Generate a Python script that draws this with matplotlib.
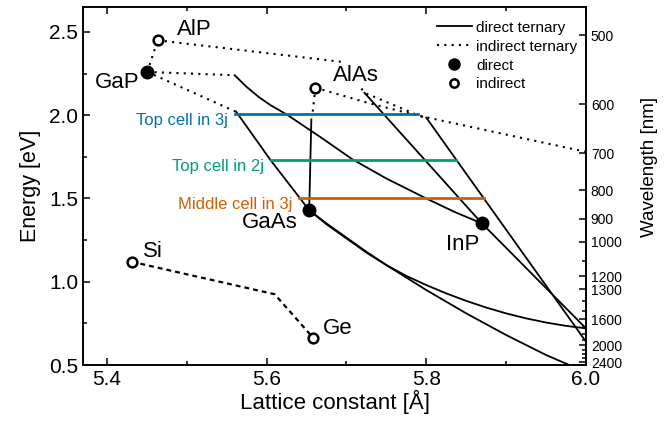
import numpy as np
import matplotlib.pyplot as plt
from matplotlib.lines import Line2D
from matplotlib.ticker import MultipleLocator, FixedLocator, NullFormatter

plt.rcParams['font.family'] = ['Liberation Sans', 'DejaVu Sans']

#---BINARY COMPOUNDS (lattice constant [A], gap [eV])
direct_names = ['GaP', 'GaAs', 'InP']
direct_a = [5.4505, 5.6533, 5.8697]
direct_e = [2.26, 1.43, 1.35]

indirect_names = ['AlP', 'AlAs', 'Si', 'Ge']
indirect_a = [5.4635, 5.6611, 5.431, 5.658]
indirect_e = [2.45, 2.165, 1.12, 0.665]

#---TERNARY CURVES, direct parts (solid)
gainp_a = [5.56, 5.575, 5.59, 5.605, 5.625, 5.67, 5.7075, 5.75, 5.80, 5.835, 5.8697]
gainp_e = [2.24, 2.17, 2.11, 2.06, 2.005, 1.86, 1.735, 1.62, 1.50, 1.42, 1.35]
gaasp_a = [5.562, 5.605, 5.6533]
gaasp_e = [2.02, 1.73, 1.43]
algaas_a = [5.656, 5.6533]
algaas_e = [1.975, 1.43]
alinp_a = [5.7225, 5.8697]
alinp_e = [2.135, 1.35]
inasp_a = [5.8697, 6.0]
inasp_e = [1.35, 0.72]
alinas_a = [5.80, 6.0]
alinas_e = [1.985, 0.64]
ingaas_a = [5.6533, 5.675, 5.70, 5.725, 5.75, 5.775, 5.80, 5.825, 5.85,
            5.875, 5.90, 5.925, 5.95, 5.979]
ingaas_e = [1.43, 1.35, 1.265, 1.18, 1.10, 1.025, 0.95, 0.88, 0.81,
            0.745, 0.68, 0.62, 0.56, 0.50]
gaassb_a = [5.6533, 5.675, 5.70, 5.725, 5.75, 5.775, 5.80, 5.825, 5.85,
            5.875, 5.90, 5.925, 5.95, 5.975, 6.0]
gaassb_e = [1.43, 1.345, 1.26, 1.175, 1.10, 1.035, 0.98, 0.93, 0.885,
            0.845, 0.81, 0.78, 0.755, 0.735, 0.72]

#---TERNARY CURVES, indirect parts (dotted)
algap_a = [5.4505, 5.4635]
algap_e = [2.26, 2.45]
gainp_ind_a = [5.4505, 5.56]
gainp_ind_e = [2.26, 2.24]
gaasp_ind_a = [5.4505, 5.562]
gaasp_ind_e = [2.26, 2.02]
algaas_ind_a = [5.6611, 5.657]
algaas_ind_e = [2.165, 1.99]
alinp_ind_a = [5.4635, 5.695, 5.7225, 5.791, 6.0]
alinp_ind_e = [2.45, 2.32, 2.135, 1.997, 1.78]
alinas_ind_a = [5.6611, 5.73, 5.80]
alinas_ind_e = [2.165, 2.07, 1.985]
sige_a = [5.431, 5.61, 5.658]
sige_e = [1.12, 0.925, 0.665]

#---SOLAR CELL GAPS
cell_labels = ['Top cell in 3j', 'Top cell in 2j', 'Middle cell in 3j']
cell_e = [2.01, 1.733, 1.505]
cell_a_start = [5.56, 5.606, 5.641]
cell_a_end = [5.789, 5.837, 5.8725]
cell_colors = ['#0072B2', '#009E73', '#D55E00']

#---WAVELENGTH AXIS
wl_major = [500, 600, 700, 800, 900, 1000, 1200, 1300, 1600, 2000, 2400]
wl_minor = [1100, 1400, 1500, 1700, 1800, 1900, 2100, 2200, 2300]

DOT = (0, (1, 2.5))
lw = 1.3

fig = plt.figure(figsize=(6.66, 4.23), dpi=100)
ax = fig.add_axes([83/666, 58/423, 503/666, 358/423])

solid = [(gainp_a, gainp_e), (gaasp_a, gaasp_e), (algaas_a, algaas_e),
         (alinp_a, alinp_e), (inasp_a, inasp_e), (alinas_a, alinas_e),
         (ingaas_a, ingaas_e), (gaassb_a, gaassb_e)]
for a, e in solid:
    ax.plot(a, e, '-', color='black', lw=lw, zorder=2)

dotted = [(algap_a, algap_e), (gainp_ind_a, gainp_ind_e), (gaasp_ind_a, gaasp_ind_e),
          (algaas_ind_a, algaas_ind_e), (alinp_ind_a, alinp_ind_e),
          (alinas_ind_a, alinas_ind_e)]
for a, e in dotted:
    ax.plot(a, e, color='black', lw=1.5, ls=DOT, zorder=2)
ax.plot(sige_a, sige_e, color='black', lw=1.6, ls=(0, (2.2, 1.8)), zorder=2)

#---cell lines
for lab, e, a0, a1, c in zip(cell_labels, cell_e, cell_a_start, cell_a_end, cell_colors):
    ax.plot([a0, a1], [e, e], color=c, lw=2.0, zorder=3)
    ax.text(a0 - 0.009, e - 0.04, lab, color=c, fontsize=12, ha='right', va='center')

#---markers
ax.plot(direct_a, direct_e, 'o', color='black', ms=9, zorder=5)
ax.plot(indirect_a, indirect_e, 'o', mfc='white', mec='black', ms=7, mew=1.8, zorder=5)

#---compound labels
lab_kw = dict(fontsize=16, va='center', zorder=4)
ax.text(5.4875, 2.515, 'AlP', ha='left', **lab_kw)
ax.text(5.441, 2.195, 'GaP', ha='right', **lab_kw)
ax.text(5.6825, 2.24, 'AlAs', ha='left',
        bbox=dict(facecolor='white', edgecolor='none', pad=0.5), **lab_kw)
ax.text(5.639, 1.355, 'GaAs', ha='right', **lab_kw)
ax.text(5.8456, 1.225, 'InP', ha='center', **lab_kw)
ax.text(5.445, 1.183, 'Si', ha='left', **lab_kw)
ax.text(5.67, 0.722, 'Ge', ha='left', **lab_kw)

ax.set_xlim(5.37, 6.0)
ax.set_ylim(0.5, 2.65)
ax.xaxis.set_major_locator(MultipleLocator(0.2))
ax.xaxis.set_minor_locator(MultipleLocator(0.1))
ax.yaxis.set_major_locator(MultipleLocator(0.5))
ax.yaxis.set_minor_locator(MultipleLocator(0.25))
ax.xaxis.set_major_formatter(plt.FormatStrFormatter('%.1f'))
ax.yaxis.set_major_formatter(plt.FormatStrFormatter('%.1f'))
ax.tick_params(which='both', direction='in', top=True, right=False, labelsize=15, width=1.1)
ax.tick_params(which='major', length=5)
ax.tick_params(which='minor', length=3)
ax.set_xlabel('Lattice constant [Å]', fontsize=16, labelpad=1)
ax.set_ylabel('Energy [eV]', fontsize=15.5, labelpad=6)
for s in ax.spines.values():
    s.set_linewidth(1.2)

#---wavelength axis
ax2 = ax.twinx()
ax2.set_ylim(ax.get_ylim())
ax2.yaxis.set_major_locator(FixedLocator([1239.84 / w for w in wl_major]))
ax2.set_yticklabels([str(w) for w in wl_major])
ax2.yaxis.set_minor_locator(FixedLocator([1239.84 / w for w in wl_minor]))
ax2.yaxis.set_minor_formatter(NullFormatter())
ax2.tick_params(which='both', direction='in', labelsize=10, width=1.1)
ax2.tick_params(which='major', length=5)
ax2.tick_params(which='minor', length=3)
ax2.set_ylabel('Wavelength [nm]', fontsize=13.5)
ax2.yaxis.set_label_coords(1.11, 0.553)
for s in ax2.spines.values():
    s.set_linewidth(1.2)

#---legend
handles = [Line2D([], [], color='black', lw=lw),
           Line2D([], [], color='black', lw=1.5, ls=DOT),
           Line2D([], [], marker='o', ls='none', color='black', ms=8),
           Line2D([], [], marker='o', ls='none', mfc='white', mec='black', ms=6, mew=1.8)]
ax.legend(handles, ['direct ternary', 'indirect ternary', 'direct', 'indirect'],
          loc='upper right', bbox_to_anchor=(1.0, 0.985), frameon=False, fontsize=11,
          handlelength=2.3, handletextpad=0.3, labelspacing=0.32, borderaxespad=0.15)

fig.savefig('out.png', dpi=100)
